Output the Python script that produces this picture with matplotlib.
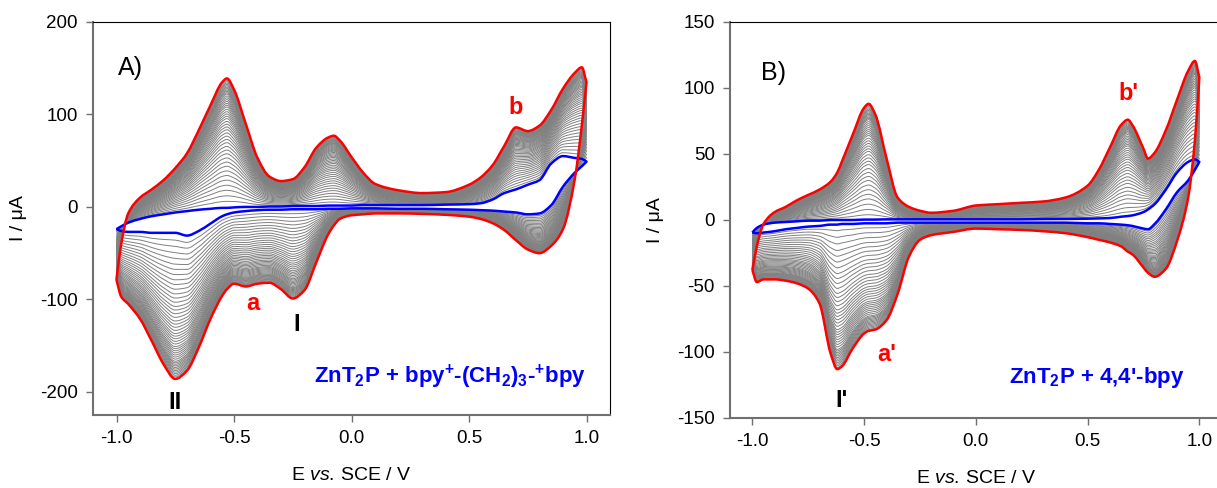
# =========================================================
# VOLTAMPEROGRAMAS CICLICOS - ELECTROPOLIMERIZACION ZnT2P
# =========================================================

import numpy as np
import matplotlib.pyplot as plt
from matplotlib.path import Path
from matplotlib.patches import PathPatch

plt.rcParams['font.family'] = ['Liberation Sans', 'DejaVu Sans']
plt.rcParams['mathtext.fontset'] = 'custom'
plt.rcParams['mathtext.rm'] = 'Liberation Sans'
plt.rcParams['mathtext.it'] = 'Liberation Sans:italic'
plt.rcParams['mathtext.bf'] = 'Liberation Sans:bold'
plt.rcParams['axes.unicode_minus'] = False

# =========================================================
# DATOS PANEL A  (ZnT2P + bpy+-(CH2)3-+bpy)
# =========================================================

E_a = [-1.0, -0.98, -0.95, -0.9, -0.85, -0.8, -0.75, -0.7, -0.65, -0.6,
       -0.55, -0.53, -0.5, -0.45, -0.4, -0.35, -0.3, -0.25, -0.2, -0.15,
       -0.1, -0.075, -0.05, 0.0, 0.05, 0.1, 0.2, 0.3, 0.4, 0.5,
       0.55, 0.6, 0.65, 0.7, 0.75, 0.8, 0.85, 0.9, 0.95, 0.98, 1.0]

# ultimo ciclo (rojo): barrido anodico / barrido catodico
rojo_a_ox = [-78, -40, -7, 10, 19, 29, 42, 58, 83, 110,
             135, 139, 127, 90, 53, 33, 28, 30, 43, 64,
             75, 77, 72, 54, 37, 25, 18, 15, 16, 24,
             32, 45, 66, 86, 82, 88, 105, 128, 145, 151, 135]
rojo_a_red = [-79, -97, -105, -121, -145, -170, -186, -177, -152, -121,
              -96, -89, -83, -86, -83, -82, -89, -99, -90, -60,
              -30, -20, -13, -9, -8, -7, -7, -7.5, -8.5, -10.5,
              -13, -17.5, -25, -36, -46, -50, -42, -24, 30, 88, 135]

# primer ciclo (azul)
azul_a_ox = [-24, -21, -17, -13, -10, -8, -6, -4.5, -3, -2,
             -1, -1, -0.5, 0, 0, 0.5, 0.5, 1, 1, 1,
             1.5, 1.5, 1.5, 1.5, 2, 2, 2, 2, 2.5, 3,
             4, 8, 15, 19, 24, 29, 47, 55, 53, 52, 49]
azul_a_red = [-24, -26, -27, -27, -28, -28, -28, -31, -26, -18,
              -10, -8, -6, -4.5, -3.5, -3, -3, -2.5, -2.5, -2.5,
              -2, -2, -2, -1.5, -1.5, -1.5, -2, -2, -2.5, -3,
              -3.5, -4, -5, -6, -8, -7, 2, 22, 37, 44, 49]

# altura del pico a -0.53 V en los ciclos intermedios (gris)
picos_gris_a = [6, 12, 18, 23.5, 29, 34, 39, 44, 48.5, 53, 57.5, 61.5,
                65.5, 69.5, 73, 76.5, 80, 83.5, 86.5, 89.5, 92.5, 95.5,
                98, 100.5, 103, 105.5, 108, 110, 112, 114, 116, 118, 120,
                122, 123.5, 125, 126.5, 128, 129.5, 131, 132.5, 134,
                135.5, 137]

# =========================================================
# DATOS PANEL B  (ZnT2P + 4,4'-bpy)
# =========================================================

E_b = [-1.0, -0.98, -0.95, -0.9, -0.85, -0.8, -0.75, -0.7, -0.65, -0.62,
       -0.6, -0.55, -0.5, -0.48, -0.45, -0.4, -0.35, -0.3, -0.25, -0.2,
       -0.1, 0.0, 0.1, 0.2, 0.3, 0.4, 0.5, 0.55, 0.6, 0.65,
       0.68, 0.7, 0.75, 0.77, 0.8, 0.85, 0.9, 0.95, 0.98, 1.0]

rojo_b_ox = [-38, -20, -3, 6, 10, 15, 19, 23, 29, 36,
             44, 65, 85, 88, 80, 47, 17, 10, 7, 5.5,
             7, 11, 12, 13, 14, 17, 26, 38, 55, 72,
             76, 72, 54, 46.5, 51, 68, 91, 113, 120.5, 108]
rojo_b_red = [-38, -47, -45, -45, -46, -48, -52, -63, -101, -113,
              -111, -97, -86, -84, -83, -76, -56, -28, -15, -11.5,
              -9, -6.5, -7, -7.5, -8.5, -10, -13, -15, -17, -20,
              -24, -26, -36, -40, -43, -37, -16, 17, 60, 108]

azul_b_ox = [-9.5, -6, -3.5, -2, -1.5, -1, -0.5, -0.5, 0, 0,
             0, 0, 0.3, 0.3, 0.3, 0.5, 0.5, 0.5, 0.5, 0.5,
             0.5, 0.5, 0.5, 0.5, 0.7, 0.8, 1, 1.2, 1.5, 2.5,
             3, 3.5, 6, 8, 12, 23, 36, 44, 46, 44]
azul_b_red = [-9.5, -10, -9.5, -8.5, -7, -6, -5, -4.5, -3.5, -3.5,
              -3, -3, -2.5, -2.5, -2.5, -2.5, -2, -2, -2, -2,
              -2, -2, -2, -2, -2, -2, -2.5, -2.5, -3, -3.5,
              -4, -4.5, -6.5, -7, -3, 8, 21, 30, 38, 44]

# altura del pico a -0.48 V en los ciclos intermedios (gris)
picos_gris_b = [4, 8, 12, 16, 19.5, 23, 26.5, 30, 33, 36, 39, 42, 44.5,
                47, 49.5, 52, 54, 56, 58, 60, 62, 64, 65.5, 67, 68.5,
                70, 71.5, 73, 74.5, 76, 77, 78, 79, 80, 81, 82, 83, 84,
                85, 86, 87]

# =========================================================
# TRAZO SUAVE (curvas de Bezier por los puntos leidos)
# =========================================================


def tramos(E, I):
    x = np.asarray(E, float)
    y = np.asarray(I, float)
    h = np.diff(x)
    d = np.diff(y) / h
    m = np.zeros_like(y)
    m[0], m[-1] = d[0], d[-1]
    for i in range(1, len(y) - 1):
        if d[i - 1] * d[i] > 0:
            w1 = 2 * h[i] + h[i - 1]
            w2 = h[i] + 2 * h[i - 1]
            m[i] = (w1 + w2) / (w1 / d[i - 1] + w2 / d[i])
    verts = [(x[0], y[0])]
    for i in range(len(h)):
        verts.append((x[i] + h[i] / 3, y[i] + m[i] * h[i] / 3))
        verts.append((x[i + 1] - h[i] / 3, y[i + 1] - m[i + 1] * h[i] / 3))
        verts.append((x[i + 1], y[i + 1]))
    return verts


def ciclo(ax, E, ox, red, color, lw, z):
    arriba = tramos(E, ox)
    abajo = tramos(E, red)[::-1]
    verts = arriba + abajo + [arriba[0]]
    codes = ([Path.MOVETO] + [Path.CURVE4] * (len(arriba) - 1) +
             [Path.LINETO] + [Path.CURVE4] * (len(abajo) - 1) + [Path.LINETO])
    ax.add_patch(PathPatch(Path(verts, codes), fill=False, edgecolor=color,
                           lw=lw, zorder=z, joinstyle='round'))


def dibujar_panel(ax, E, r_ox, r_red, a_ox, a_red, picos, i_pico):
    r_ox, r_red = np.array(r_ox, float), np.array(r_red, float)
    a_ox, a_red = np.array(a_ox, float), np.array(a_red, float)
    base = a_ox[i_pico]
    tope = r_ox[i_pico]
    for h in picos:
        f = (h - base) / (tope - base)
        ciclo(ax, E, a_ox + f * (r_ox - a_ox), a_red + f * (r_red - a_red),
              '#808080', 0.7, 2)
    ciclo(ax, E, a_ox, a_red, '#0000ff', 1.8, 3)
    ciclo(ax, E, r_ox, r_red, '#ff0000', 1.8, 4)

    ax.set_xlim(-1.1, 1.1)
    ax.set_xticks([-1.0, -0.5, 0.0, 0.5, 1.0])
    ax.set_xticklabels(['-1.0', '-0.5', '0.0', '0.5', '1.0'])
    ax.tick_params(direction='out', length=5, width=1, labelsize=13.5,
                   pad=6, top=False, right=False, color='#707070')
    ax.spines['left'].set_color('#707070')
    ax.spines['bottom'].set_color('#707070')
    ax.spines['left'].set_linewidth(1.5)
    ax.spines['bottom'].set_linewidth(1.5)
    ax.set_xlabel(r'E $\mathit{vs.}\,$SCE / V', fontsize=14, labelpad=14)
    ax.set_ylabel('I / μA', fontsize=14, labelpad=9)


# =========================================================
# FIGURA
# =========================================================

fig = plt.figure(figsize=(12.17, 4.88), dpi=100)

ax1 = fig.add_axes([93 / 1217, 1 - 415 / 488, 517 / 1217, 393 / 488])
dibujar_panel(ax1, E_a, rojo_a_ox, rojo_a_red, azul_a_ox, azul_a_red,
              picos_gris_a, 11)
ax1.set_ylim(-225, 200)
ax1.set_yticks([-200, -100, 0, 100, 200])

ax1.text(-0.995, 150, 'A)', fontsize=18, va='center', ha='left')
ax1.text(0.70, 107, 'b', color='#ff0000', fontsize=17, fontweight='bold',
         ha='center', va='center')
ax1.text(-0.42, -104, 'a', color='#ff0000', fontsize=17, fontweight='bold',
         ha='center', va='center')
ax1.text(-0.235, -127, 'I', color='black', fontsize=17, fontweight='bold',
         ha='center', va='center')
ax1.text(-0.75, -211, 'II', color='black', fontsize=17, fontweight='bold',
         ha='center', va='center')
ax1.text(-0.16, -184,
         r'ZnT$_\mathbf{2}$P + bpy$^\mathbf{+}$-(CH$_\mathbf{2}$)$_\mathbf{3}$-$^\mathbf{+}$bpy',
         color='#0000ff', fontsize=16, fontweight='bold', ha='left',
         va='center')

ax2 = fig.add_axes([730 / 1217, 1 - 418 / 488, 491.7 / 1217, 396 / 488])
dibujar_panel(ax2, E_b, rojo_b_ox, rojo_b_red, azul_b_ox, azul_b_red,
              picos_gris_b, 13)
ax2.set_ylim(-150, 150)
ax2.set_yticks([-150, -100, -50, 0, 50, 100, 150])

ax2.text(-0.96, 111, 'B)', fontsize=18, va='center', ha='left')
ax2.text(0.685, 96, "b'", color='#ff0000', fontsize=17, fontweight='bold',
         ha='center', va='center')
ax2.text(-0.40, -102, "a'", color='#ff0000', fontsize=17, fontweight='bold',
         ha='center', va='center')
ax2.text(-0.60, -137, "I'", color='black', fontsize=17, fontweight='bold',
         ha='center', va='center')
ax2.text(0.148, -119, r"ZnT$_\mathbf{2}$P + 4,4'-bpy", color='#0000ff',
         fontsize=16, fontweight='bold', ha='left', va='center')

fig.savefig('out.png', dpi=100)
